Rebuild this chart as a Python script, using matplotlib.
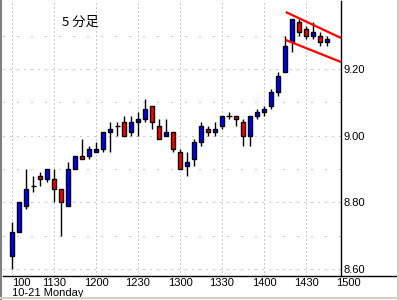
import matplotlib
matplotlib.use("Agg")
from matplotlib import pyplot as plt
from matplotlib.patches import Rectangle
from matplotlib.lines import Line2D
import matplotlib.transforms as mtransforms

plt.rcParams['font.family'] = ['Liberation Sans', 'DejaVu Sans']

# 5 minute bars
opens  = [8.64, 8.71, 8.79, 8.85, 8.88, 8.87, 8.87, 8.84, 8.79, 8.90,
          8.94, 8.94, 8.95, 8.96, 9.01, 9.03, 9.04, 9.01, 9.04, 9.05,
          9.09, 9.03, 9.00, 9.01, 8.95, 8.91, 8.93, 8.98, 9.02, 9.01,
          9.03, 9.06, 9.06, 9.04, 9.00, 9.06, 9.07, 9.09, 9.13, 9.19,
          9.28, 9.34, 9.32, 9.30, 9.30, 9.28]
highs  = [8.74, 8.80, 8.90, 8.88, 8.89, 8.90, 8.90, 8.84, 8.92, 8.94,
          8.99, 8.97, 8.98, 9.01, 9.04, 9.04, 9.06, 9.06, 9.07, 9.11,
          9.09, 9.05, 9.05, 9.01, 8.96, 8.95, 8.99, 9.04, 9.03, 9.04,
          9.06, 9.07, 9.06, 9.05, 9.06, 9.08, 9.09, 9.14, 9.19, 9.30,
          9.35, 9.35, 9.33, 9.34, 9.31, 9.30]
lows   = [8.60, 8.71, 8.78, 8.83, 8.85, 8.86, 8.80, 8.70, 8.79, 8.90,
          8.93, 8.93, 8.95, 8.95, 8.95, 9.00, 9.00, 9.00, 9.00, 9.04,
          9.02, 8.99, 9.00, 8.95, 8.90, 8.88, 8.91, 8.97, 9.00, 9.00,
          9.02, 9.05, 9.03, 8.97, 8.97, 9.05, 9.06, 9.08, 9.12, 9.19,
          9.25, 9.30, 9.29, 9.29, 9.27, 9.27]
closes = [8.71, 8.80, 8.84, 8.85, 8.87, 8.90, 8.84, 8.80, 8.90, 8.94,
          8.93, 8.96, 8.96, 9.01, 9.02, 9.03, 9.00, 9.04, 9.05, 9.08,
          9.04, 8.99, 9.01, 8.96, 8.90, 8.92, 8.98, 9.03, 9.01, 9.02,
          9.06, 9.06, 9.05, 9.00, 9.06, 9.07, 9.08, 9.13, 9.18, 9.27,
          9.35, 9.31, 9.30, 9.31, 9.28, 9.29]

tick_pos = [0, 6, 12, 18, 24, 30, 36, 42, 48]
tick_labels = ["100", "1130", "1200", "1230", "1300", "1330", "1400", "1430", "1500"]
y_major = [8.60, 8.80, 9.00, 9.20]
y_minor = [8.70, 8.90, 9.10, 9.30]

# channel lines drawn on the chart
upper_x = [39.1, 47.0]
upper_y = [9.371, 9.293]
lower_x = [39.1, 47.0]
lower_y = [9.287, 9.221]

fig = plt.figure(figsize=(3.99, 3.0), dpi=100)
ax = fig.add_axes([3 / 399, 24 / 300, 338 / 399, 275 / 300])
ax.set_xlim(-1.29, 47.0)
ax.set_ylim(8.579, 9.404)

px = 0.72  # one pixel in points
grid_col = '#999999'
for p in tick_pos:
    if p <= 47:
        ax.axvline(p, color=grid_col, lw=px, ls=(0, (1, 3)), zorder=0)
for v in y_major:
    ax.axhline(v, color=grid_col, lw=px, ls=(0, (1, 6)), zorder=0)
for v in y_minor:
    ax.axhline(v, color=grid_col, lw=px, ls=(0, (1, 13)), zorder=0)

# candles
for i in range(len(opens)):
    o, h, l, c = opens[i], highs[i], lows[i], closes[i]
    ax.vlines(i, l, h, color='black', lw=1.0, zorder=2)
    if o == c:
        ax.hlines(o, i - 0.36, i + 0.36, color='black', lw=1.0, zorder=3)
    else:
        col = '#0000ff' if c > o else '#ff0000'
        ax.add_patch(Rectangle((i - 0.3, min(o, c)), 0.6, abs(c - o),
                               facecolor=col, edgecolor='black', lw=1.0, zorder=3))

ax.plot(upper_x, upper_y, color='#ff0000', lw=1.6, zorder=4, solid_capstyle='butt')
ax.plot(lower_x, lower_y, color='#ff0000', lw=1.6, zorder=4, solid_capstyle='butt')

ax.text(9.8, 9.341, "5 分足", fontsize=9.5, ha='center', va='center',
        family=['Noto Sans CJK JP', 'DejaVu Sans'])

for s in ['top', 'left', 'bottom']:
    ax.spines[s].set_visible(False)
ax.spines['right'].set_color('black')
ax.spines['right'].set_linewidth(1.0)

ax.set_xticks([])
ax.set_yticks(y_major)
ax.set_yticklabels(["%.2f" % v for v in y_major], fontsize=8)
ax.yaxis.tick_right()
ax.tick_params(axis='y', length=0, pad=1.5)

trans = mtransforms.blended_transform_factory(ax.transData, ax.transAxes)
for p, lab in zip(tick_pos, tick_labels):
    ax.text(p, -0.027, lab, transform=trans, fontsize=8, va='center',
            ha='left' if p == 0 else 'center', clip_on=False)
ax.text(0, -0.060, "10-21 Monday", transform=trans, fontsize=8,
        va='center', ha='left', clip_on=False)

# bottom axis line runs across the whole panel
fig.add_artist(Line2D([3 / 399, 1.0], [24 / 300, 24 / 300], color='black', lw=1.0))
# panel border
fig.add_artist(Line2D([1 / 399, 1 / 399], [0, 1], color='#808080', lw=1.5))
fig.add_artist(Line2D([0, 1], [2.5 / 300, 2.5 / 300], color='#d4d0c8', lw=1.5))
fig.add_artist(Line2D([397.5 / 399, 397.5 / 399], [0, 1], color='#d4d0c8', lw=1.5))

fig.savefig("out.png", dpi=100)
